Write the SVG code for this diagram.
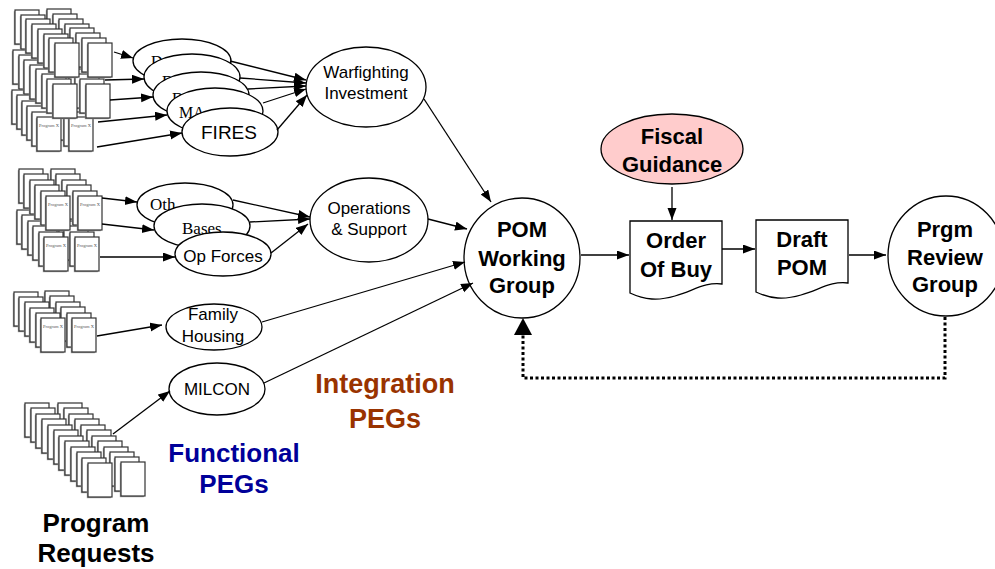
<svg xmlns="http://www.w3.org/2000/svg" xmlns:xlink="http://www.w3.org/1999/xlink" width="995" height="569" viewBox="0 0 995 569">
<style>
.nd{fill:#fff;stroke:#000;stroke-width:1.3}
.t{font-family:"Liberation Sans",Arial,sans-serif;font-size:17px;text-anchor:middle;fill:#000}
.ts{font-family:"Liberation Serif","Times New Roman",serif;font-size:16px;fill:#000}
.b{font-family:"Liberation Sans",Arial,sans-serif;font-weight:bold;font-size:22px;text-anchor:middle;fill:#000}
.big{font-family:"Liberation Sans",Arial,sans-serif;font-weight:bold;text-anchor:middle}
.px{font-family:"Liberation Serif",serif;font-size:4.5px;text-anchor:middle;fill:#555}
.cn line{stroke:#000;stroke-width:1.3;marker-end:url(#ah)}
</style>
<defs>
<marker id="ah" markerWidth="13" markerHeight="10" refX="12" refY="4.5" orient="auto" markerUnits="userSpaceOnUse"><path d="M0,0 L12,4.5 L0,9 Z" fill="#000"/></marker>
<g id="pg"><rect x="-1.2" y="1.2" width="24" height="34" fill="#999"/><rect width="24" height="34" fill="#fff" stroke="#333" stroke-width="1.2"/></g>
<g id="px"><use xlink:href="#pg"/><text class="px" x="12" y="10">Program X</text></g>
</defs>
<rect width="995" height="569" fill="#fff"/>

<g id="stack-top">
<use xlink:href="#pg" x="12" y="90"/><use xlink:href="#pg" x="44" y="90"/>
<use xlink:href="#pg" x="17" y="95"/><use xlink:href="#pg" x="49" y="95"/>
<use xlink:href="#pg" x="22" y="101"/><use xlink:href="#pg" x="54" y="101"/>
<use xlink:href="#pg" x="27" y="106"/><use xlink:href="#pg" x="59" y="106"/>
<use xlink:href="#pg" x="32" y="112"/><use xlink:href="#pg" x="64" y="112"/>
<use xlink:href="#px" x="37" y="117"/><use xlink:href="#px" x="69" y="117"/>
<use xlink:href="#pg" x="13" y="50"/><use xlink:href="#pg" x="46" y="50"/>
<use xlink:href="#pg" x="19" y="55"/><use xlink:href="#pg" x="52" y="55"/>
<use xlink:href="#pg" x="24" y="60"/><use xlink:href="#pg" x="57" y="60"/>
<use xlink:href="#pg" x="30" y="65"/><use xlink:href="#pg" x="63" y="65"/>
<use xlink:href="#pg" x="36" y="69"/><use xlink:href="#pg" x="69" y="69"/>
<use xlink:href="#pg" x="42" y="74"/><use xlink:href="#pg" x="75" y="74"/>
<use xlink:href="#pg" x="47" y="79"/><use xlink:href="#pg" x="80" y="79"/>
<use xlink:href="#pg" x="53" y="84"/><use xlink:href="#pg" x="86" y="84"/>
<use xlink:href="#pg" x="15" y="10"/><use xlink:href="#pg" x="47" y="9"/>
<use xlink:href="#pg" x="21" y="15"/><use xlink:href="#pg" x="53" y="14"/>
<use xlink:href="#pg" x="26" y="19"/><use xlink:href="#pg" x="59" y="19"/>
<use xlink:href="#pg" x="32" y="24"/><use xlink:href="#pg" x="65" y="24"/>
<use xlink:href="#pg" x="38" y="29"/><use xlink:href="#pg" x="70" y="28"/>
<use xlink:href="#pg" x="44" y="34"/><use xlink:href="#pg" x="76" y="33"/>
<use xlink:href="#pg" x="49" y="38"/><use xlink:href="#pg" x="82" y="38"/>
<use xlink:href="#pg" x="55" y="43"/><use xlink:href="#pg" x="88" y="43"/>
</g>

<g id="stack-mid">
<use xlink:href="#pg" x="17" y="210"/><use xlink:href="#pg" x="48" y="210"/>
<use xlink:href="#pg" x="22" y="215"/><use xlink:href="#pg" x="53" y="215"/>
<use xlink:href="#pg" x="28" y="221"/><use xlink:href="#pg" x="59" y="221"/>
<use xlink:href="#pg" x="33" y="226"/><use xlink:href="#pg" x="64" y="226"/>
<use xlink:href="#pg" x="39" y="232"/><use xlink:href="#pg" x="70" y="232"/>
<use xlink:href="#px" x="44" y="237"/><use xlink:href="#px" x="75" y="237"/>
<use xlink:href="#pg" x="19" y="169"/><use xlink:href="#pg" x="51" y="169"/>
<use xlink:href="#pg" x="24" y="174"/><use xlink:href="#pg" x="56" y="174"/>
<use xlink:href="#pg" x="30" y="180"/><use xlink:href="#pg" x="62" y="180"/>
<use xlink:href="#pg" x="35" y="185"/><use xlink:href="#pg" x="67" y="185"/>
<use xlink:href="#pg" x="41" y="191"/><use xlink:href="#pg" x="73" y="191"/>
<use xlink:href="#px" x="46" y="196"/><use xlink:href="#px" x="78" y="196"/>
</g>

<g id="stack-family">
<use xlink:href="#pg" x="14" y="292"/><use xlink:href="#pg" x="45" y="291"/>
<use xlink:href="#pg" x="19" y="297"/><use xlink:href="#pg" x="50" y="296"/>
<use xlink:href="#pg" x="25" y="302"/><use xlink:href="#pg" x="56" y="302"/>
<use xlink:href="#pg" x="30" y="308"/><use xlink:href="#pg" x="61" y="307"/>
<use xlink:href="#pg" x="36" y="313"/><use xlink:href="#pg" x="67" y="313"/>
<use xlink:href="#px" x="41" y="318"/><use xlink:href="#px" x="72" y="318"/>
</g>

<g id="stack-requests">
<use xlink:href="#pg" x="25" y="403"/><use xlink:href="#pg" x="58" y="403"/>
<use xlink:href="#pg" x="31" y="408"/><use xlink:href="#pg" x="64" y="408"/>
<use xlink:href="#pg" x="36" y="414"/><use xlink:href="#pg" x="69" y="414"/>
<use xlink:href="#pg" x="42" y="419"/><use xlink:href="#pg" x="75" y="419"/>
<use xlink:href="#pg" x="48" y="425"/><use xlink:href="#pg" x="81" y="425"/>
<use xlink:href="#pg" x="54" y="430"/><use xlink:href="#pg" x="87" y="430"/>
<use xlink:href="#pg" x="59" y="436"/><use xlink:href="#pg" x="92" y="436"/>
<use xlink:href="#pg" x="65" y="441"/><use xlink:href="#pg" x="98" y="441"/>
<use xlink:href="#pg" x="71" y="447"/><use xlink:href="#pg" x="104" y="447"/>
<use xlink:href="#pg" x="77" y="452"/><use xlink:href="#pg" x="110" y="452"/>
<use xlink:href="#pg" x="82" y="458"/><use xlink:href="#pg" x="115" y="457"/>
<use xlink:href="#pg" x="88" y="463"/><use xlink:href="#pg" x="121" y="462"/>
</g>

<g id="peg-d1"><ellipse class="nd" cx="182" cy="61" rx="49" ry="22"/><text class="ts" x="151" y="67">D</text></g>
<g id="peg-d2"><ellipse class="nd" cx="192" cy="77" rx="48" ry="23"/><text class="ts" x="162" y="87">D</text></g>
<g id="peg-d3"><ellipse class="nd" cx="201" cy="95" rx="48" ry="23"/><text class="ts" x="172" y="104">D</text></g>
<g id="peg-man"><ellipse class="nd" cx="215" cy="111" rx="48" ry="23"/><text class="ts" x="179" y="118">MA</text></g>
<g id="peg-fires"><ellipse class="nd" cx="230" cy="132" rx="48" ry="24"/><text class="t" x="229" y="139" style="font-size:19px">FIRES</text></g>

<g id="peg-other"><ellipse class="nd" cx="185" cy="205" rx="48" ry="22"/><text class="ts" x="150" y="210" style="font-size:17px">Oth</text></g>
<g id="peg-bases"><ellipse class="nd" cx="202" cy="226" rx="48" ry="22"/><text class="ts" x="182" y="234" style="font-size:17px">Bases</text></g>
<g id="peg-opforces"><ellipse class="nd" cx="223" cy="254" rx="48" ry="22"/><text class="t" x="223" y="262">Op Forces</text></g>

<g id="peg-family"><ellipse class="nd" cx="214" cy="327" rx="48" ry="23"/><text class="t" x="213" y="320">Family</text><text class="t" x="213" y="342">Housing</text></g>
<g id="peg-milcon"><ellipse class="nd" cx="217" cy="389" rx="48" ry="26"/><text class="t" x="217" y="395">MILCON</text></g>

<g id="warfighting"><ellipse class="nd" cx="366" cy="87" rx="60" ry="40"/><text class="t" x="366" y="78">Warfighting</text><text class="t" x="366" y="99">Investment</text></g>
<g id="ops-support"><ellipse class="nd" cx="369" cy="220" rx="59" ry="42"/><text class="t" x="369" y="214">Operations</text><text class="t" x="369" y="235">&amp; Support</text></g>

<g id="pom"><ellipse class="nd" cx="522" cy="258" rx="58" ry="60"/><text class="b" x="522" y="237">POM</text><text class="b" x="522" y="266">Working</text><text class="b" x="522" y="293">Group</text></g>
<g id="fiscal"><ellipse cx="672" cy="149" rx="71" ry="35" fill="#FFCCCC" stroke="#000" stroke-width="1.3"/><text class="b" x="672" y="144">Fiscal</text><text class="b" x="672" y="172">Guidance</text></g>
<g id="order"><path class="nd" d="M630,221 H722 V284 C705,282 695,290 675,296 C658,301 645,300 630,293 Z"/><text class="b" x="676" y="248">Order</text><text class="b" x="676" y="277">Of Buy</text></g>
<g id="draft"><path class="nd" d="M756,220 H848 V283 C831,281 821,289 801,295 C784,300 771,299 756,292 Z"/><text class="b" x="802" y="247">Draft</text><text class="b" x="802" y="275">POM</text></g>
<g id="prgm"><ellipse class="nd" cx="946" cy="256" rx="58" ry="60"/><text class="b" x="945" y="237">Prgm</text><text class="b" x="945" y="265">Review</text><text class="b" x="945" y="292">Group</text></g>

<g id="labels">
<text class="big" x="385" y="393" style="font-size:27px;fill:#993300">Integration</text>
<text class="big" x="385" y="428" style="font-size:27px;fill:#993300">PEGs</text>
<text class="big" x="234" y="462" style="font-size:26px;fill:#000099">Functional</text>
<text class="big" x="234" y="493" style="font-size:26px;fill:#000099">PEGs</text>
<text class="big" x="96" y="532" style="font-size:26px;fill:#000">Program</text>
<text class="big" x="96" y="562" style="font-size:26px;fill:#000">Requests</text>
</g>

<g id="connectors" class="cn">
<line x1="114" y1="52" x2="133" y2="58"/>
<line x1="105" y1="80" x2="144" y2="79"/>
<line x1="110" y1="100" x2="153" y2="97"/>
<line x1="98" y1="122" x2="167" y2="115"/>
<line x1="97" y1="147" x2="182" y2="133"/>
<line x1="230" y1="61" x2="306" y2="80"/>
<line x1="240" y1="78" x2="306" y2="83"/>
<line x1="248" y1="89" x2="306" y2="86"/>
<line x1="263" y1="103" x2="306" y2="89"/>
<line x1="277" y1="130" x2="307" y2="95"/>
<line x1="424" y1="99" x2="491" y2="202"/>
<line x1="102" y1="198" x2="137" y2="202"/>
<line x1="102" y1="224" x2="154" y2="230"/>
<line x1="100" y1="257" x2="175" y2="257"/>
<line x1="233" y1="200" x2="310" y2="217"/>
<line x1="250" y1="222" x2="310" y2="219"/>
<line x1="271" y1="253" x2="308" y2="224"/>
<line x1="428" y1="219" x2="467" y2="229"/>
<line x1="97" y1="336" x2="162" y2="325"/>
<line x1="262" y1="322" x2="465" y2="262"/>
<line x1="113" y1="434" x2="170" y2="391"/>
<line x1="264" y1="383" x2="473" y2="283"/>
<line x1="581" y1="255" x2="629" y2="255"/>
<line x1="672" y1="187" x2="672" y2="220"/>
<line x1="722" y1="249" x2="755" y2="249"/>
<line x1="849" y1="255" x2="886" y2="255"/>
<path d="M945,317 V378 H523 V334" fill="none" stroke="#000" stroke-width="3" stroke-dasharray="3 2.5"/>
<path d="M523,318 L514,335 L532,335 Z" fill="#000"/>
</g>
</svg>
